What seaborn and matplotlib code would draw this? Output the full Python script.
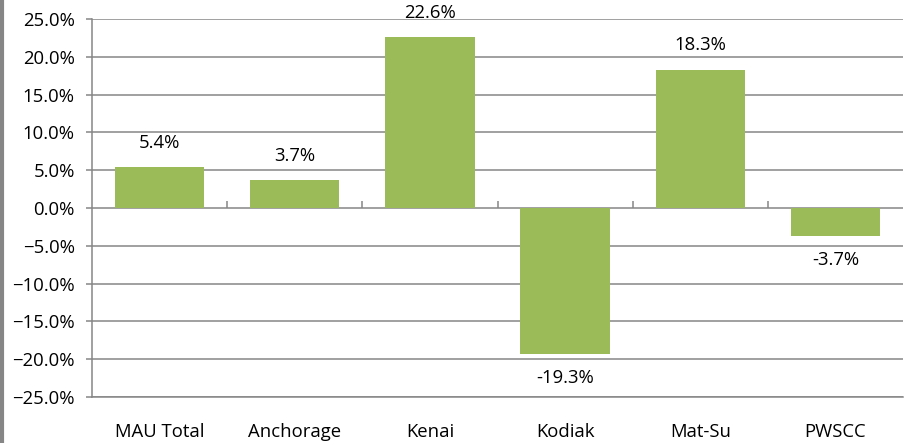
import matplotlib
matplotlib.use("Agg")
import matplotlib.pyplot as plt
import seaborn as sns
import pandas as pd
from matplotlib.ticker import PercentFormatter
from matplotlib.lines import Line2D

categories = ["MAU Total", "Anchorage", "Kenai", "Kodiak", "Mat-Su", "PWSCC"]
values = [5.4, 3.7, 22.6, -19.3, 18.3, -3.7]
yticks = [-25, -20, -15, -10, -5, 0, 5, 10, 15, 20, 25]

sns.set_theme(style="white")
plt.rcParams['font.family'] = ['Open Sans', 'DejaVu Sans']

df = pd.DataFrame({"cat": categories, "val": values})
fig = plt.figure(figsize=(9.05, 4.43), dpi=100)
W, H = 905, 443
ax = fig.add_axes([92 / W, (H - 397) / H, (903 - 92) / W, (397 - 19) / H])

gray = "#868686"
fs = 13.3
sns.barplot(data=df, x="cat", y="val", color="#9BBB59", saturation=1, width=0.66,
            linewidth=0, ax=ax, zorder=3)

ax.set_ylim(-25, 25)
ax.set_xlim(-0.5, len(categories) - 0.5)
ax.set_yticks(yticks)
ax.yaxis.set_major_formatter(PercentFormatter(decimals=1))
ax.grid(axis="y", color=gray, linewidth=1.1, zorder=0)
ax.set_axisbelow(True)
ax.set_xlabel("")
ax.set_ylabel("")

for s in ["top", "right"]:
    ax.spines[s].set_visible(False)
ax.spines["left"].set_color(gray)
ax.spines["bottom"].set_color(gray)
ax.spines["left"].set_linewidth(1.1)
ax.spines["bottom"].set_linewidth(1.1)

ax.tick_params(axis="y", left=True, length=4.5, width=1.1, color=gray, labelsize=fs, labelcolor="black", pad=8)
ax.tick_params(axis="x", bottom=False, labelsize=fs, labelcolor="black", pad=13)

# zero axis line with category-boundary ticks
sec = ax.secondary_xaxis(0.5)
sec.set_xticks([i + 0.5 for i in range(len(categories) - 1)])
sec.set_xticklabels([])
sec.tick_params(direction="out", length=5, width=1.1, color=gray)
sec.spines["bottom"].set_color(gray)
sec.spines["bottom"].set_linewidth(1.1)
for s in ["top", "left", "right"]:
    sec.spines[s].set_visible(False)

for c in ax.containers:
    ax.bar_label(c, labels=[f"{v:.1f}%" for v in values], padding=11, fontsize=fs, color="black")

fig.add_artist(Line2D([0.002, 0.002], [0, 1], transform=fig.transFigure, color=gray, linewidth=3))

fig.savefig("out.png", dpi=100)
